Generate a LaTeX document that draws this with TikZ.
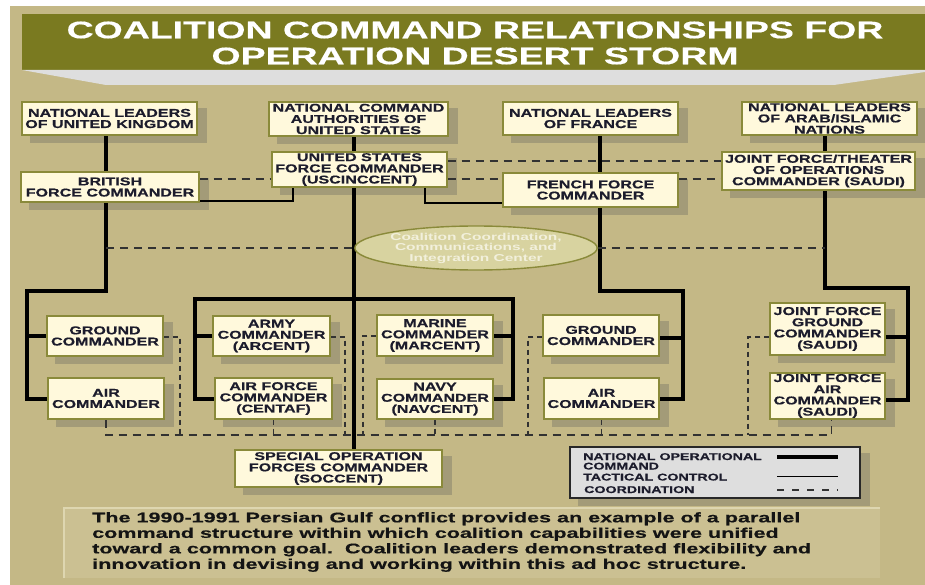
\documentclass[tikz,border=0pt]{standalone}
\usepackage{fontspec}
\setmainfont{Liberation Sans}
\newfontfamily\boxf{Liberation Sans}[FakeStretch=1.42,FakeBold=0.6]
\newfontfamily\titf{Liberation Sans}[FakeStretch=1.56,FakeBold=0.4]
\newfontfamily\parf{Liberation Sans}[FakeStretch=1.54,FakeBold=0.4]
\newfontfamily\ellf{Liberation Sans}[FakeStretch=1.55]
\newfontfamily\legf{Liberation Sans}[FakeStretch=1.45,FakeBold=0.5]
\usetikzlibrary{calc,shapes.geometric}
\pgfdeclarelayer{bg}\pgfdeclarelayer{shad}\pgfdeclarelayer{fore}
\pgfsetlayers{bg,shad,main,fore}
\definecolor{bgtan}{RGB}{196,184,134}
\definecolor{bannerc}{RGB}{122,122,32}
\definecolor{bandc}{RGB}{222,222,222}
\definecolor{boxfill}{RGB}{255,249,220}
\definecolor{boxline}{RGB}{138,138,58}
\definecolor{shadc}{RGB}{163,155,120}
\definecolor{txtc}{RGB}{28,28,44}
\definecolor{ellfill}{RGB}{216,211,160}
\definecolor{elltxt}{RGB}{242,240,220}
\definecolor{parfill}{RGB}{203,192,146}
\definecolor{parlight}{RGB}{222,214,176}
\definecolor{legfill}{RGB}{222,222,222}
\definecolor{legline}{RGB}{40,40,40}
\definecolor{coordc}{RGB}{50,50,50}
\tikzset{
  cbox/.style={draw=boxline, fill=boxfill, line width=1.4pt, inner sep=0pt, align=center,
    text=txtc, font=\boxf\bfseries\fontsize{11.3}{11.2}\selectfont},
  natl/.style={line width=4pt, black},
  tac/.style={line width=1.2pt, black},
  coord/.style={line width=1.4pt, coordc, dash pattern=on 8pt off 6pt},
  coordv/.style={line width=1.4pt, coordc, dash pattern=on 5pt off 4pt},
  legt/.style={inner sep=0pt, text=txtc, font=\legf\bfseries\fontsize{9.8}{10}\selectfont},
}
\begin{document}
\begin{tikzpicture}[x=1pt,y=-1pt]
\useasboundingbox (0,0) rectangle (925,585);
% ---------- background ----------
\begin{pgfonlayer}{bg}
\fill[white] (0,0) rectangle (925,585);
\fill[bgtan] (10,6) rectangle (925,585);
\fill[bannerc] (22,14) rectangle (925,70);
\fill[bandc] (22,70) -- (925,70) -- (925,72) -- (834,85) -- (106,85) -- cycle;
\fill[parfill] (64,508) rectangle (880,578);
\draw[parlight, line width=1.5pt] (64,578) -- (64,508) -- (880,508);
\end{pgfonlayer}
\node[inner sep=0pt, align=center, text=white, font=\titf\bfseries\fontsize{24}{26}\selectfont] (title) at (475,43) {COALITION COMMAND RELATIONSHIPS FOR\\OPERATION DESERT STORM};
% ---------- boxes ----------
\begin{pgfonlayer}{fore}
\node[cbox, minimum width=175pt, minimum height=33pt] (nluk) at (109.5,118.5) {NATIONAL LEADERS\\OF UNITED KINGDOM};
\node[cbox, minimum width=179pt, minimum height=34pt] (nca) at (358.5,119) {NATIONAL COMMAND\\AUTHORITIES OF\\UNITED STATES};
\node[cbox, minimum width=175pt, minimum height=33pt] (nlfr) at (590.5,118.5) {NATIONAL LEADERS\\OF FRANCE};
\node[cbox, minimum width=175pt, minimum height=33pt] (nlar) at (829.5,118.5) {NATIONAL LEADERS\\OF ARAB/ISLAMIC\\NATIONS};
\node[cbox, minimum width=175pt, minimum height=35pt] (usfc) at (359.5,169.5) {UNITED STATES\\FORCE COMMANDER\\(USCINCCENT)};
\node[cbox, minimum width=178pt, minimum height=30pt] (brit) at (110,187) {BRITISH\\FORCE COMMANDER};
\node[cbox, minimum width=175pt, minimum height=34pt] (frfc) at (590.5,190) {FRENCH FORCE\\COMMANDER};
\node[cbox, minimum width=193pt, minimum height=38pt] (jft) at (818.5,171) {JOINT FORCE/THEATER\\OF OPERATIONS\\COMMANDER (SAUDI)};
\node[cbox, minimum width=116pt, minimum height=40pt] (gcuk) at (105,336) {GROUND\\COMMANDER};
\node[cbox, minimum width=116pt, minimum height=41pt] (acuk) at (106,398.5) {AIR\\COMMANDER};
\node[cbox, minimum width=117pt, minimum height=40pt] (army) at (271.5,336) {ARMY\\COMMANDER\\(ARCENT)};
\node[cbox, minimum width=117pt, minimum height=41pt] (afc) at (273.5,398.5) {AIR FORCE\\COMMANDER\\(CENTAF)};
\node[cbox, minimum width=116pt, minimum height=41pt] (marine) at (435,335.5) {MARINE\\COMMANDER\\(MARCENT)};
\node[cbox, minimum width=116pt, minimum height=40pt] (navy) at (435,399) {NAVY\\COMMANDER\\(NAVCENT)};
\node[cbox, minimum width=116pt, minimum height=41pt] (gcfr) at (601,335.5) {GROUND\\COMMANDER};
\node[cbox, minimum width=115pt, minimum height=41pt] (acfr) at (601.5,398.5) {AIR\\COMMANDER};
\node[cbox, minimum width=115pt, minimum height=52pt] (jfgc) at (827.5,329) {JOINT FORCE\\GROUND\\COMMANDER\\(SAUDI)};
\node[cbox, minimum width=115pt, minimum height=46pt] (jfac) at (827.5,396) {JOINT FORCE\\AIR\\COMMANDER\\(SAUDI)};
\node[cbox, minimum width=207pt, minimum height=37pt] (soc) at (338.5,468.5) {SPECIAL OPERATION\\FORCES COMMANDER\\(SOCCENT)};
\node[ellipse, draw=boxline, fill=ellfill, line width=1.4pt, minimum width=232pt, minimum height=44pt, inner sep=0pt, align=center, text=elltxt, font=\ellf\bfseries\fontsize{10}{10.5}\selectfont] (ell) at (476,248) {Coalition Coordination,\\Communications, and\\Integration Center};
% legend
\node[draw=legline, fill=legfill, line width=1.8pt, minimum width=290pt, minimum height=51pt, inner sep=0pt] (leg) at (715,472.5) {};
\node[legt, anchor=base west] (lg1) at (583,460) {NATIONAL OPERATIONAL};
\node[legt, anchor=base west] (lg2) at (583,469.5) {COMMAND};
\node[legt, anchor=base west] (lg3) at (583,480.5) {TACTICAL CONTROL};
\node[legt, anchor=base west] (lg4) at (584,493) {COORDINATION};
\coordinate (la1) at (777,457); \coordinate (lb1) at (838,457);
\coordinate (la2) at (777,476); \coordinate (lb2) at (838,476);
\coordinate (la3) at (777,490); \coordinate (lb3) at (838,490);
\draw[line width=4.5pt, black] (la1) -- (lb1);
\draw[line width=1pt, black] (la2) -- (lb2);
\draw[line width=1.4pt, coordc, dash pattern=on 7pt off 8pt] (la3) -- (lb3);
\node[anchor=north west, inner sep=0pt, align=left, text=black!92, font=\parf\bfseries\fontsize{14}{15.5}\selectfont] (para) at (92,512) {The 1990-1991 Persian Gulf conflict provides an example of a parallel\\command structure within which coalition capabilities were unified\\toward a common goal.\ \ Coalition leaders demonstrated flexibility and\\innovation in devising and working within this ad hoc structure.};
\end{pgfonlayer}
% ---------- shadows ----------
\begin{pgfonlayer}{shad}
\foreach \n in {nluk,nca,nlfr,nlar,usfc,brit,frfc,jft,gcuk,acuk,army,afc,marine,navy,gcfr,acfr,jfgc,jfac,soc,leg}
  \fill[shadc] ($(\n.south west)+(9,7)$) rectangle ($(\n.north east)+(9,7)$);
\end{pgfonlayer}
% ---------- national operational command ----------
\coordinate (k1) at (106,291); \coordinate (k2) at (27,291);
\draw[natl] (nluk.south -| k1) -- (k1) -- (k2) |- (acuk.west);
\draw[natl] (k2 |- gcuk.west) -- (gcuk.west);
\coordinate (usx) at (354,299);
\draw[natl] (nca.south -| usx) -- (soc.north -| usx);
\coordinate (uL) at (195,299); \coordinate (uR) at (513,299);
\draw[natl] (afc.west) -| (uL) -- (uR) |- (navy.east);
\draw[natl] (army.west) -- (army.west -| uL);
\draw[natl] (marine.east) -- (marine.east -| uR);
\coordinate (f1) at (600,291); \coordinate (f2) at (683,291);
\draw[natl] (nlfr.south -| f1) -- (f1) -- (f2) |- (acfr.east);
\draw[natl] ([yshift=-2pt]gcfr.east) -- ([yshift=-2pt]gcfr.east -| f2);
\coordinate (a1) at (825,288); \coordinate (a2) at (908,288);
\draw[natl] (nlar.south -| a1) -- (a1) -- (a2) |- ([yshift=-4pt]jfac.east);
\draw[natl] ([yshift=-8pt]jfgc.east) -- ([yshift=-8pt]jfgc.east -| a2);
% ---------- tactical control ----------
\coordinate (t1) at (293,201);
\draw[tac] (usfc.south -| t1) -- (t1) -- (brit.east |- t1);
\coordinate (t2) at (425,203);
\draw[tac] (usfc.south -| t2) -- (t2) -- (frfc.west |- t2);
% ---------- coordination ----------
\coordinate (cA) at (235,179); \coordinate (cB) at (600,161);
\draw[coord] (brit.east |- cA) -- (usfc.west |- cA);
\draw[coord] (usfc.east |- cB) -- (jft.west |- cB);
\draw[coord] (usfc.east |- cA) -- (frfc.west |- cA);
\draw[coord] (frfc.east |- cA) -- (jft.west |- cA);
\draw[coord] (ell.west -| k1) -- (ell.west);
\draw[coord] (ell.east) -- (ell.east -| a1);
\coordinate (bl) at (106,435);
\draw[coord] (acuk.south) -- (acuk.south |- bl) -- ([xshift=4pt]jfac.south |- bl) -- ([xshift=4pt]jfac.south);
\coordinate (v1) at (180,337); \coordinate (v2) at (345,337); \coordinate (v3) at (363,336);
\coordinate (v4) at (528,337); \coordinate (v5) at (748,337);
\draw[coordv] (gcuk.east |- v1) -- (v1) -- (v1 |- bl);
\draw[coordv] (army.east |- v2) -- (v2) -- (v2 |- bl);
\draw[coordv] (marine.west |- v3) -- (v3) -- (v3 |- bl);
\draw[coordv] (gcfr.west |- v4) -- (v4) -- (v4 |- bl);
\draw[coordv] (jfgc.west |- v5) -- (v5) -- (v5 |- bl);
\draw[coordv] (afc.south) -- (afc.south |- bl);
\draw[coordv] (navy.south) -- (navy.south |- bl);
\draw[coordv] (acfr.south) -- (acfr.south |- bl);
\end{tikzpicture}
\end{document}
